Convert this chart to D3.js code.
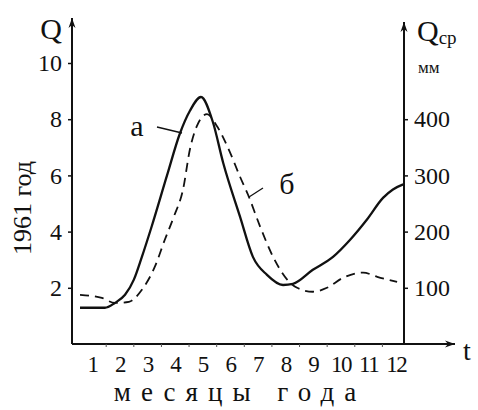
<!DOCTYPE html>
<html>
<head>
<meta charset="utf-8">
<script src="https://cdn.jsdelivr.net/npm/d3@7"></script>
<style>
  body { margin: 0; background: #fff; }
</style>
</head>
<body>
<svg id="chart" width="478" height="410"></svg>
<script>
// months and discharge
var monthsA = [0.57, 1.47, 1.83, 2.2, 2.52, 2.81, 3.17, 3.72, 4.19, 4.55, 4.95, 5.38, 5.75, 6.36, 6.83, 7.34, 7.92, 8.28, 9.0, 9.73, 10.35, 10.96, 11.54, 11.9, 12.27];
var qA = [1.29, 1.29, 1.46, 1.75, 2.29, 3.1, 4.2, 6.0, 7.5, 8.3, 8.79, 7.9, 6.46, 4.54, 3.1, 2.46, 2.1, 2.14, 2.64, 3.1, 3.71, 4.43, 5.2, 5.5, 5.68];

var monthsB = [0.57, 1.36, 1.83, 2.34, 2.81, 3.28, 3.64, 3.97, 4.3, 4.55, 4.8, 5.17, 5.53, 6.0, 6.36, 6.65, 7.09, 7.56, 8.07, 8.43, 9.0, 9.51, 10.1, 10.82, 11.33, 12.05];
var qB = [1.75, 1.64, 1.46, 1.5, 1.93, 2.75, 3.71, 4.54, 5.5, 6.93, 7.75, 8.18, 7.75, 6.82, 5.96, 5.32, 4.18, 3.1, 2.29, 2.0, 1.86, 2.0, 2.36, 2.54, 2.39, 2.21];

var months = [1, 2, 3, 4, 5, 6, 7, 8, 9, 10, 11, 12];
var leftTicks = [2, 4, 6, 8, 10];
var rightTicks = [100, 200, 300, 400];

var serif = "'Liberation Serif', 'DejaVu Serif', serif";
var svg = d3.select("#chart");

var x = d3.scaleLinear().domain([0.28, 12.3]).range([72, 404]);
var y = d3.scaleLinear().domain([0, 10]).range([344, 63]);
var yR = d3.scaleLinear().domain([0, 500]).range([344, 63]);

/* arrow marker */
svg.append("defs").append("marker")
    .attr("id", "arr")
    .attr("viewBox", "-10 -5 12 10")
    .attr("refX", 0).attr("refY", 0)
    .attr("markerWidth", 12).attr("markerHeight", 10)
    .attr("markerUnits", "userSpaceOnUse")
    .attr("orient", "auto")
  .append("path")
    .attr("d", "M0,0 L-10,-3.5 L-7,0 L-10,3.5 Z")
    .attr("fill", "#111");

/* axis lines */
svg.append("line")
    .attr("x1", x(0.28)).attr("y1", y(0)).attr("x2", x(0.28)).attr("y2", 18)
    .attr("stroke", "#111").attr("stroke-width", 2).attr("marker-end", "url(#arr)");
svg.append("line")
    .attr("x1", x(12.3)).attr("y1", y(0)).attr("x2", x(12.3)).attr("y2", 22)
    .attr("stroke", "#111").attr("stroke-width", 2).attr("marker-end", "url(#arr)");
svg.append("line")
    .attr("x1", x(0.28)).attr("y1", y(0)).attr("x2", 455).attr("y2", y(0))
    .attr("stroke", "#111").attr("stroke-width", 2).attr("marker-end", "url(#arr)");

/* left axis */
var gl = svg.append("g")
    .attr("transform", "translate(" + x(0.28) + ",0)")
    .call(d3.axisLeft(y).tickValues(leftTicks).tickSize(4).tickPadding(6).tickFormat(d3.format("d")));
gl.select(".domain").remove();
gl.selectAll("line").attr("stroke", "#111").attr("stroke-width", 1.5);
gl.selectAll("text").attr("font-size", 24);

/* right axis */
var gr = svg.append("g")
    .attr("transform", "translate(" + x(12.3) + ",0)")
    .call(d3.axisRight(yR).tickValues(rightTicks).tickSize(4).tickPadding(6));
gr.select(".domain").remove();
gr.selectAll("line").attr("stroke", "#111").attr("stroke-width", 1.5);
gr.selectAll("text").attr("font-size", 24);

/* bottom axis: month labels */
var gb = svg.append("g")
    .attr("transform", "translate(0," + y(0) + ")")
    .call(d3.axisBottom(x).tickValues(months).tickSize(0).tickPadding(12).tickFormat(d3.format("d")));
gb.select(".domain").remove();
gb.selectAll("text").attr("font-size", 23).attr("letter-spacing", -1.5);

/* small ticks at month boundaries */
var gt = svg.append("g")
    .attr("transform", "translate(0," + y(0) + ")")
    .call(d3.axisBottom(x).tickValues(months.slice(0, 11).map(function(d) { return d + 0.5; })).tickSize(3).tickFormat(""));
gt.select(".domain").remove();
gt.selectAll("line").attr("stroke", "#555").attr("stroke-width", 1);

/* curves */
var line = d3.line()
    .x(function(d) { return x(d[0]); })
    .y(function(d) { return y(d[1]); })
    .curve(d3.curveMonotoneX);

svg.append("path")
    .datum(d3.zip(monthsA, qA))
    .attr("d", line)
    .attr("fill", "none")
    .attr("stroke", "#111")
    .attr("stroke-width", 2.3);

svg.append("path")
    .datum(d3.zip(monthsB, qB))
    .attr("d", line)
    .attr("fill", "none")
    .attr("stroke", "#111")
    .attr("stroke-width", 1.8)
    .attr("stroke-dasharray", "9,6");

/* curve labels */
svg.append("line").attr("x1", 157).attr("y1", 127).attr("x2", 182).attr("y2", 133)
    .attr("stroke", "#111").attr("stroke-width", 1.3);
svg.append("text").attr("x", 137).attr("y", 136).attr("text-anchor", "middle")
    .attr("font-size", 30).text("а");
svg.append("line").attr("x1", 249).attr("y1", 197).attr("x2", 263).attr("y2", 188)
    .attr("stroke", "#111").attr("stroke-width", 1.3);
svg.append("text").attr("x", 287).attr("y", 194).attr("text-anchor", "middle")
    .attr("font-size", 30).text("б");

/* axis titles */
svg.append("text").attr("x", 51).attr("y", 39).attr("text-anchor", "middle")
    .attr("font-size", 30).text("Q");
var qcp = svg.append("text").attr("x", 417).attr("y", 41).attr("font-size", 30);
qcp.append("tspan").text("Q");
qcp.append("tspan").attr("font-size", 19).attr("dy", 3).text("ср");
svg.append("text").attr("x", 418).attr("y", 73).attr("font-size", 17).text("мм");
svg.append("text").attr("x", 467).attr("y", 360).attr("text-anchor", "middle")
    .attr("font-size", 28).text("t");

svg.append("text")
    .attr("transform", "translate(31,208) rotate(-90)")
    .attr("text-anchor", "middle")
    .attr("font-size", 26)
    .text("1961 год");

svg.append("text").attr("x", 240).attr("y", 401).attr("text-anchor", "middle")
    .attr("font-size", 27).attr("letter-spacing", 10).text("месяцы года");

svg.selectAll("text").style("font-family", serif).attr("fill", "#111");
</script>
</body>
</html>
